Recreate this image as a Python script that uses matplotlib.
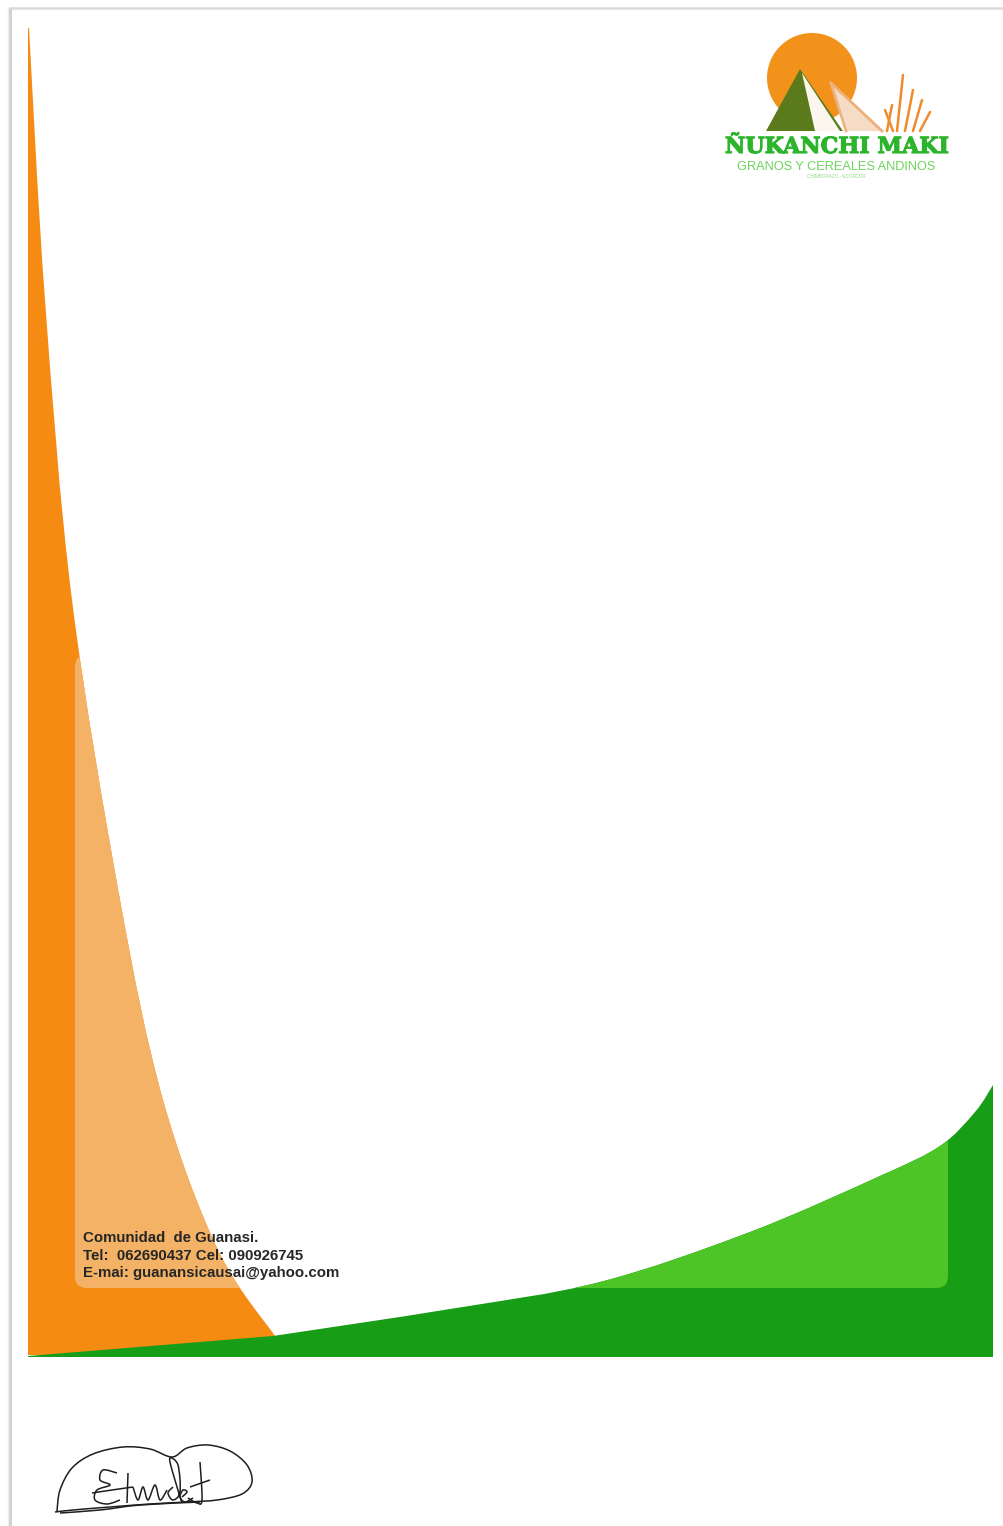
import matplotlib
matplotlib.use("Agg")
import matplotlib.pyplot as plt
import numpy as np
from matplotlib.patches import Polygon, Circle, FancyBboxPatch, PathPatch
from matplotlib.path import Path
import matplotlib.patheffects as pe

# --- formas de la hoja (coordenadas en pixeles de la hoja escaneada) ---
# borde derecho de la franja naranja (curva)
orange_edge_y = [28, 300, 600, 900, 1100, 1250, 1336]
orange_edge_x = [29, 45, 72, 120, 163, 218, 275]
# borde superior de la franja verde
green_edge_x = [28, 273, 450, 600, 750, 880, 940, 975, 993]
green_edge_y = [1356, 1336, 1309, 1282, 1232, 1176, 1146, 1112, 1085]
page_left, page_bottom, page_right = 28, 1357, 993
# recuadro semitransparente
panel = [75, 655, 948, 1288]

# logo
sun = (812, 78, 45)
mountain_dark = [(800, 69), (766, 131), (843, 131)]
mountain_face = [(802, 73), (815, 131), (840, 131)]
mountain_back = [(831, 83), (846, 131), (882, 131)]
grass_base_x = [887, 893, 897, 905, 913, 920]
grass_top_x = [892, 885, 903, 913, 922, 930]
grass_top_y = [105, 110, 75, 90, 100, 112]

logo_title = "ÑUKANCHI MAKI"
logo_sub = "GRANOS Y CEREALES ANDINOS"
logo_tiny = "CHIMBORAZO - ECUADOR"
contacto = ["Comunidad  de Guanasi.",
            "Tel:  062690437 Cel: 090926745",
            "E-mai: guanansicausai@yahoo.com"]

# firma (trazos)
firma = [
    [(57, 1511), (60, 1490), (72, 1468), (93, 1454), (123, 1447), (150, 1449), (172, 1457),
     (187, 1448), (208, 1445), (230, 1451), (247, 1465), (252, 1482), (242, 1494), (217, 1500),
     (187, 1502), (150, 1504), (110, 1507), (73, 1510), (55, 1512)],
    [(117, 1473), (103, 1470), (100, 1480), (110, 1485), (97, 1490), (95, 1500), (107, 1504), (120, 1500)],
    [(92, 1493), (112, 1490), (133, 1487)],
    [(128, 1473), (127, 1503)],
    [(133, 1487), (138, 1500), (143, 1487), (148, 1500), (155, 1485), (160, 1500), (167, 1490)],
    [(173, 1487), (168, 1493), (173, 1500), (180, 1492), (178, 1465), (170, 1458), (172, 1470), (182, 1503)],
    [(182, 1497), (187, 1492), (183, 1490), (180, 1497), (185, 1502), (193, 1498)],
    [(190, 1487), (210, 1480)],
    [(200, 1462), (202, 1500), (197, 1503), (188, 1498)],
    [(60, 1513), (100, 1510), (140, 1505), (200, 1502)],
]


def curva(pts):
    # segmentos bezier que pasan por los puntos leidos
    p = np.array(pts, dtype=float)
    ext = np.vstack([p[0], p, p[-1]])
    verts, codes = [], []
    for i in range(1, len(ext) - 2):
        c1 = ext[i] + (ext[i + 1] - ext[i - 1]) / 6
        c2 = ext[i + 1] - (ext[i + 2] - ext[i]) / 6
        verts += [tuple(c1), tuple(c2), tuple(ext[i + 1])]
        codes += [Path.CURVE4] * 3
    return verts, codes


W, H = 1004, 1526
fig = plt.figure(figsize=(W / 100, H / 100), dpi=100)
ax = fig.add_axes([0, 0, 1, 1])
ax.set_xlim(0, W)
ax.set_ylim(H, 0)
ax.axis("off")

# borde de la hoja
ax.plot([10, 10], [8, H], color="#d2d2d2", lw=2.2, solid_capstyle="butt")
ax.plot([8, 8], [8, H], color="#ededed", lw=1.0)
ax.plot([10, W], [7.5, 7.5], color="#dadada", lw=1.8)

# franja naranja
pts = list(zip(orange_edge_x, orange_edge_y))
v, c = curva(pts)
verts = [(page_left, orange_edge_y[0]), pts[0]] + v + \
        [(orange_edge_x[-1], page_bottom - 2), (page_left, page_bottom - 2), (page_left, orange_edge_y[0])]
codes = [Path.MOVETO, Path.LINETO] + c + [Path.LINETO, Path.LINETO, Path.CLOSEPOLY]
orange = PathPatch(Path(verts, codes), facecolor="#f58b12", edgecolor="none", zorder=2)
ax.add_patch(orange)

# franja verde
pts = list(zip(green_edge_x, green_edge_y))
v, c = curva(pts[1:])
verts = [pts[0], pts[1]] + v + [(page_right, page_bottom), (page_left, page_bottom), pts[0]]
codes = [Path.MOVETO, Path.LINETO] + c + [Path.LINETO, Path.LINETO, Path.CLOSEPOLY]
green = PathPatch(Path(verts, codes), facecolor="#189d16", edgecolor="none", zorder=3)
ax.add_patch(green)

# recuadro claro recortado a cada franja
for base, col, z in [(orange, "#f3b266", 2.5), (green, "#4ec526", 3.5)]:
    box = FancyBboxPatch((panel[0], panel[1]), panel[2] - panel[0], panel[3] - panel[1],
                         boxstyle="round,pad=0,rounding_size=12", facecolor=col,
                         edgecolor="none", zorder=z)
    ax.add_patch(box)
    box.set_clip_path(base)

# logo
ax.add_patch(Circle(sun[:2], sun[2], facecolor="#f3921a", edgecolor="none", zorder=4))
ax.add_patch(Polygon(mountain_back, closed=True, facecolor="#f6dcc4", edgecolor="none", zorder=5))
ax.plot([mountain_back[0][0], mountain_back[1][0]], [mountain_back[0][1], mountain_back[1][1]],
        color="#ebb585", lw=2, zorder=5)
ax.plot([mountain_back[0][0], mountain_back[2][0]], [mountain_back[0][1], mountain_back[2][1]],
        color="#eeb07a", lw=2, zorder=5)
ax.add_patch(Polygon(mountain_dark, closed=True, facecolor="#5b7a1c", edgecolor="none", zorder=6))
ax.add_patch(Polygon(mountain_face, closed=True, facecolor="#fbf6ee", edgecolor="none", zorder=6))
for bx, tx, ty in zip(grass_base_x, grass_top_x, grass_top_y):
    ax.plot([bx, tx], [131, ty], color="#f08a2c", lw=1.8, solid_capstyle="round", zorder=6)

ax.text(837, 153, logo_title, ha="center", va="baseline", fontsize=16,
        family="DejaVu Serif", weight="bold", color="#2cb52c", zorder=7,
        path_effects=[pe.withStroke(linewidth=0.8, foreground="#2cb52c")])
ax.text(836, 170, logo_sub, ha="center", va="baseline", fontsize=9.2,
        family="Liberation Sans", color="#6cd45a", zorder=7)
ax.text(836, 177.5, logo_tiny, ha="center", va="baseline", fontsize=3.3,
        family="Liberation Sans", color="#92dc86", zorder=7)

# datos de contacto
for i, linea in enumerate(contacto):
    ax.text(83, 1242 + i * 17.5, linea, ha="left", va="baseline", fontsize=10.8,
            family="Liberation Sans", weight="bold", color="#262626", zorder=8)

# firma
for trazo in firma:
    v, c = curva(trazo)
    ax.add_patch(PathPatch(Path([trazo[0]] + v, [Path.MOVETO] + c), facecolor="none",
                           edgecolor="#1e1e1e", lw=1.1, zorder=8))

fig.savefig("out.png", dpi=100)
